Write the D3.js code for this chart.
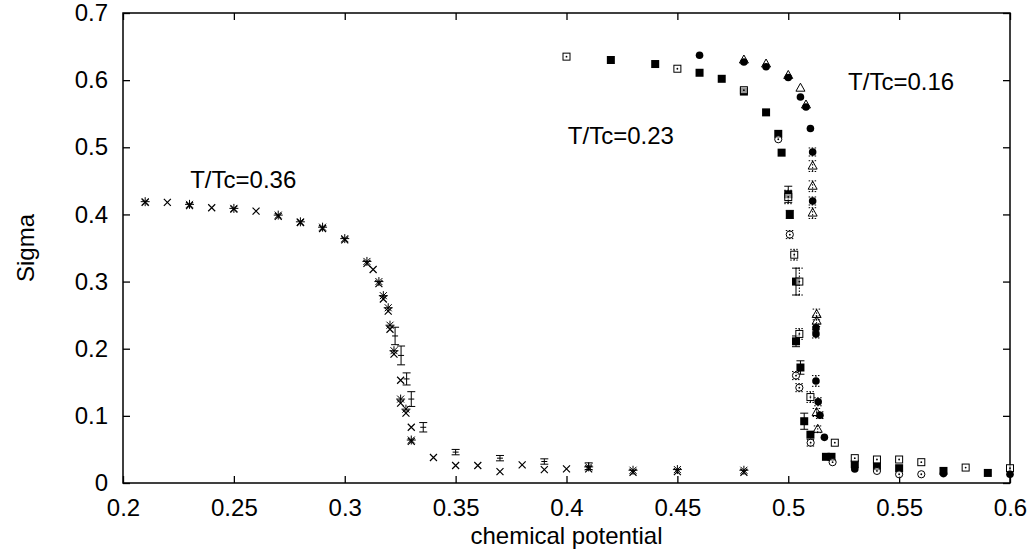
<!DOCTYPE html>
<html lang="en">
<head>
    <title>Sigma vs chemical potential</title>
    <script src="https://d3js.org/d3.v7.min.js"></script>
    <style>
        body { margin: 0; background: #fff; }
        text { font-family: "Liberation Sans", Arial, sans-serif; font-size: 24px; fill: #000; }
        .axis path { display: none; }
        .axis line { stroke: #000; stroke-width: 1.3; }
    </style>
</head>
<body>

<script>
    // tick labels
    const xTicks = [0.2, 0.25, 0.3, 0.35, 0.4, 0.45, 0.5, 0.55, 0.6];
    const yTicks = [0, 0.1, 0.2, 0.3, 0.4, 0.5, 0.6, 0.7];

    // T/Tc=0.36, [mu, sigma]
    const crosses036 = [
        [0.21,0.418],[0.22,0.418],[0.23,0.413],[0.24,0.410],[0.25,0.408],[0.26,0.405],[0.27,0.397],
        [0.28,0.388],[0.29,0.379],[0.30,0.362],[0.31,0.327],[0.3128,0.318],[0.3154,0.297],[0.3174,0.274],
        [0.3196,0.256],[0.3204,0.229],[0.3222,0.192],[0.3252,0.153],[0.3252,0.119],[0.3276,0.104],
        [0.330,0.083],[0.330,0.062],[0.34,0.038],[0.35,0.026],[0.36,0.026],[0.37,0.017],[0.38,0.027],
        [0.39,0.020],[0.40,0.021],[0.41,0.021],[0.43,0.016],[0.45,0.017],[0.48,0.016]
    ];
    const stars036 = [
        [0.21,0.419],[0.23,0.415],[0.25,0.409],[0.27,0.399],[0.28,0.389],[0.29,0.381],[0.30,0.364],
        [0.31,0.330],[0.3154,0.300],[0.3174,0.279],[0.3196,0.261],[0.3204,0.235],[0.3222,0.197],
        [0.3252,0.125],[0.3276,0.110],[0.330,0.064],[0.41,0.024],[0.43,0.019],[0.45,0.020],[0.48,0.019]
    ];
    // [mu, sigma, error]
    const bars036 = [
        [0.3227,0.219,0.013],[0.3254,0.190,0.014],[0.3279,0.155,0.009],[0.3300,0.125,0.011],
        [0.3354,0.083,0.007],[0.35,0.046,0.004],[0.37,0.037,0.004],[0.39,0.032,0.004],[0.41,0.025,0.005]
    ];

    // T/Tc=0.23, [mu, sigma, error]
    const filledSq023 = [
        [0.42,0.630,0],[0.44,0.624,0],[0.46,0.611,0],[0.47,0.602,0],[0.48,0.583,0],[0.49,0.552,0],
        [0.4955,0.520,0],[0.497,0.492,0],[0.50,0.430,0.012],[0.5007,0.400,0.006],[0.5035,0.300,0.02],
        [0.5035,0.211,0.008],[0.5055,0.172,0.01],[0.5072,0.092,0.012],[0.510,0.072,0],[0.517,0.039,0],
        [0.5195,0.039,0],[0.53,0.028,0],[0.54,0.025,0],[0.55,0.022,0],[0.57,0.018,0],[0.59,0.015,0]
    ];
    const openSq023 = [
        [0.40,0.635,0],[0.45,0.617,0],[0.48,0.585,0],[0.50,0.426,0.01],[0.5027,0.340,0.008],
        [0.505,0.300,0.02],[0.505,0.222,0.008],[0.510,0.128,0.008],[0.521,0.060,0],[0.53,0.037,0],
        [0.54,0.035,0],[0.55,0.035,0],[0.56,0.031,0],[0.58,0.023,0],[0.60,0.022,0]
    ];
    const openCirc023 = [
        [0.4955,0.512,0],[0.5007,0.370,0.006],[0.5035,0.160,0.006],[0.505,0.142,0.006],
        [0.5101,0.060,0.005],[0.52,0.031,0],[0.54,0.018,0],[0.55,0.013,0],[0.56,0.013,0]
    ];

    // T/Tc=0.16, [mu, sigma, error]
    const filledCirc016 = [
        [0.46,0.637,0],[0.48,0.627,0],[0.49,0.620,0],[0.50,0.604,0],[0.5055,0.575,0],[0.508,0.560,0],
        [0.510,0.528,0],[0.511,0.493,0.006],[0.511,0.420,0.006],[0.5125,0.231,0.006],[0.5125,0.222,0.006],
        [0.5125,0.152,0.008],[0.5135,0.121,0.006],[0.5143,0.101,0.005],[0.5163,0.068,0],
        [0.53,0.021,0],[0.57,0.014,0],[0.60,0.013,0]
    ];
    const triangles016 = [
        [0.48,0.630,0],[0.49,0.624,0],[0.50,0.607,0],[0.5055,0.588,0],[0.508,0.563,0],
        [0.511,0.472,0.008],[0.511,0.442,0.008],[0.511,0.402,0.008],[0.5128,0.251,0.008],
        [0.5128,0.241,0.008],[0.5128,0.105,0.006],[0.5133,0.080,0.005]
    ];

    const labels = [
        {text: "T/Tc=0.36", mu: 0.2303, s: 0.4396},
        {text: "T/Tc=0.23", mu: 0.4006, s: 0.5047},
        {text: "T/Tc=0.16", mu: 0.5270, s: 0.5853}
    ];

    const width = 1034, height = 552;
    const x = d3.scaleLinear().domain([0.2, 0.6]).range([123, 1010]);
    const y = d3.scaleLinear().domain([0, 0.7]).range([483, 13]);

    const svg = d3.select("body").append("svg").attr("width", width).attr("height", height);

    // frame
    svg.append("rect")
        .attr("x", x(0.2)).attr("y", y(0.7))
        .attr("width", x(0.6) - x(0.2)).attr("height", y(0) - y(0.7))
        .attr("fill", "none").attr("stroke", "#000").attr("stroke-width", 1.5);

    svg.append("g").attr("class", "axis")
        .attr("transform", `translate(0,${y(0)})`)
        .call(d3.axisBottom(x).tickValues(xTicks).tickSizeInner(-7).tickSizeOuter(0).tickPadding(16)
            .tickFormat(d => String(+d.toFixed(2))))
        .selectAll("text").attr("font-size", null).attr("font-family", null);
    svg.append("g").attr("class", "axis")
        .attr("transform", `translate(0,${y(0.7)})`)
        .call(d3.axisTop(x).tickValues(xTicks).tickSizeInner(-7).tickSizeOuter(0).tickFormat(""));
    svg.append("g").attr("class", "axis")
        .attr("transform", `translate(${x(0.2)},0)`)
        .call(d3.axisLeft(y).tickValues(yTicks).tickSizeInner(-7).tickSizeOuter(0).tickPadding(15)
            .tickFormat(d => d === 0 ? "0" : d3.format(".1f")(d)))
        .selectAll("text").attr("font-size", null).attr("font-family", null);
    svg.append("g").attr("class", "axis")
        .attr("transform", `translate(${x(0.6)},0)`)
        .call(d3.axisRight(y).tickValues(yTicks).tickSizeInner(-7).tickSizeOuter(0).tickFormat(""));
    svg.selectAll(".axis .tick line").attr("stroke", "#000");

    svg.append("text").attr("x", (x(0.2) + x(0.6)) / 2).attr("y", 544)
        .attr("text-anchor", "middle").text("chemical potential");
    svg.append("text").attr("transform", `translate(34,${(y(0) + y(0.7)) / 2}) rotate(-90)`)
        .attr("text-anchor", "middle").text("Sigma");

    svg.selectAll(".lbl").data(labels).join("text").attr("class", "lbl")
        .attr("x", d => x(d.mu)).attr("y", d => y(d.s)).text(d => d.text);

    const marks = svg.append("g");

    function errorBars(data, dashed) {
        const g = marks.append("g").attr("stroke", "#000").attr("stroke-width", 1)
            .attr("stroke-dasharray", dashed ? "1.5,1.5" : null);
        data.filter(d => d[2] > 0).forEach(d => {
            const cx = x(d[0]), y1 = y(d[1] - d[2]), y2 = y(d[1] + d[2]);
            g.append("line").attr("x1", cx).attr("x2", cx).attr("y1", y1).attr("y2", y2);
            g.append("line").attr("x1", cx - 4).attr("x2", cx + 4).attr("y1", y1).attr("y2", y1);
            g.append("line").attr("x1", cx - 4).attr("x2", cx + 4).attr("y1", y2).attr("y2", y2);
        });
    }

    // T/Tc=0.36 error bars (small centre tick)
    errorBars(bars036, false);
    marks.append("g").selectAll("line").data(bars036).join("line")
        .attr("x1", d => x(d[0]) - 3).attr("x2", d => x(d[0]) + 3)
        .attr("y1", d => y(d[1])).attr("y2", d => y(d[1]))
        .attr("stroke", "#000").attr("stroke-width", 1);

    // crosses
    const cr = 3.5;
    marks.append("g").selectAll("path").data(crosses036).join("path")
        .attr("d", d => {
            const cx = x(d[0]), cy = y(d[1]);
            return `M${cx - cr},${cy - cr}L${cx + cr},${cy + cr}M${cx - cr},${cy + cr}L${cx + cr},${cy - cr}`;
        })
        .attr("stroke", "#000").attr("stroke-width", 1.2).attr("fill", "none");
    // stars (+ and x)
    marks.append("g").selectAll("path").data(stars036).join("path")
        .attr("d", d => {
            const cx = x(d[0]), cy = y(d[1]), r = 4.5;
            return `M${cx - cr},${cy - cr}L${cx + cr},${cy + cr}M${cx - cr},${cy + cr}L${cx + cr},${cy - cr}` +
                `M${cx - r},${cy}L${cx + r},${cy}M${cx},${cy - r}L${cx},${cy + r}`;
        })
        .attr("stroke", "#000").attr("stroke-width", 1).attr("fill", "none");

    // T/Tc=0.23
    errorBars(filledSq023, false);
    errorBars(openSq023, true);
    errorBars(openCirc023, true);
    marks.append("g").selectAll("rect").data(filledSq023).join("rect")
        .attr("x", d => x(d[0]) - 4).attr("y", d => y(d[1]) - 4)
        .attr("width", 8).attr("height", 8).attr("fill", "#000");
    marks.append("g").selectAll("rect").data(openSq023).join("rect")
        .attr("x", d => x(d[0]) - 3.5).attr("y", d => y(d[1]) - 3.5)
        .attr("width", 7).attr("height", 7).attr("fill", "#fff").attr("fill-opacity", 0.6)
        .attr("stroke", "#000").attr("stroke-width", 1);
    marks.append("g").selectAll("circle").data(openCirc023).join("circle")
        .attr("cx", d => x(d[0])).attr("cy", d => y(d[1])).attr("r", 3.6)
        .attr("fill", "#fff").attr("fill-opacity", 0.6).attr("stroke", "#000").attr("stroke-width", 1);
    marks.append("g").selectAll("circle").data(openSq023.concat(openCirc023)).join("circle")
        .attr("cx", d => x(d[0])).attr("cy", d => y(d[1])).attr("r", 0.9).attr("fill", "#000");

    // T/Tc=0.16
    errorBars(filledCirc016, true);
    errorBars(triangles016, true);
    marks.append("g").selectAll("circle").data(filledCirc016).join("circle")
        .attr("cx", d => x(d[0])).attr("cy", d => y(d[1])).attr("r", 3.8).attr("fill", "#000");
    marks.append("g").selectAll("path").data(triangles016).join("path")
        .attr("d", d => {
            const cx = x(d[0]), cy = y(d[1]);
            return `M${cx},${cy - 5}L${cx + 4.5},${cy + 3}L${cx - 4.5},${cy + 3}Z`;
        })
        .attr("fill", "none").attr("stroke", "#000").attr("stroke-width", 1);
</script>

</body>
</html>
